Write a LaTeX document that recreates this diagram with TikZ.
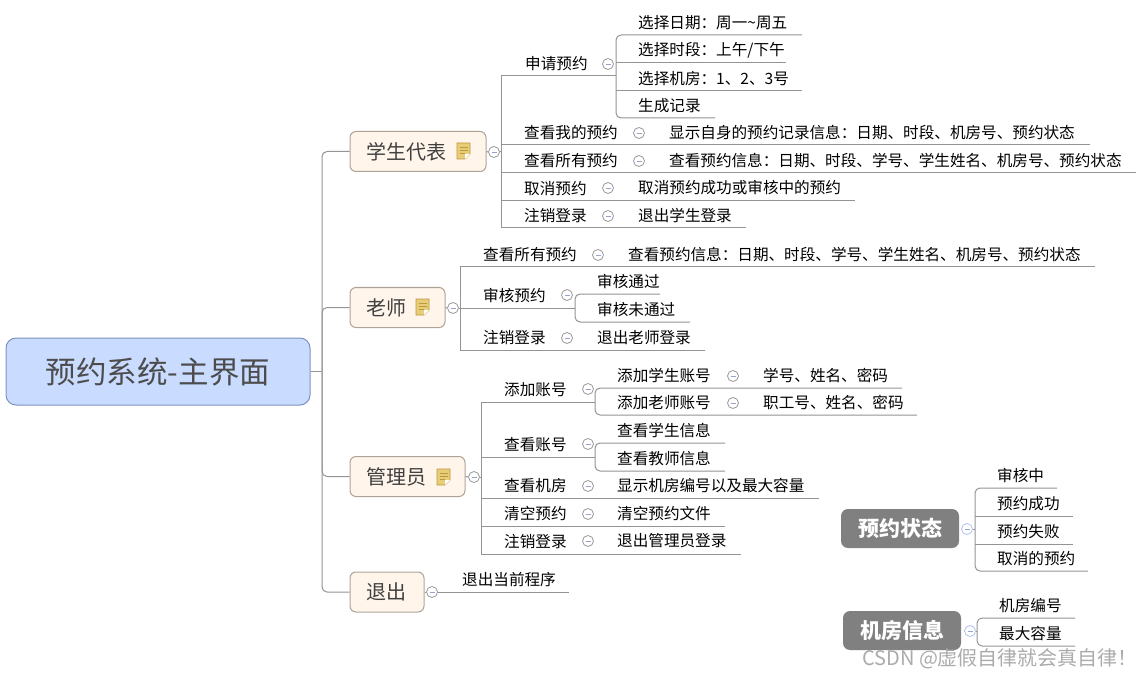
\documentclass[tikz,border=0pt]{standalone}
\usepackage{fontspec}
\setmainfont{Noto Sans CJK SC}
\newcommand{\lfn}[5]{% id, text x, line y, line end x, text
  \node[lbl,anchor=west] (#1) at (#2,#3-13.5) {#5};
  \coordinate (#1-e) at (#4,#3);
}
\newcommand{\hln}[2]{\coordinate (#1-s) at (#2); \draw[con] (#1-s) -- (#1-e);}
\newcommand{\tgl}[3]{\node[tog] (#1) at (#2,#3) {}; \draw[togm] ([xshift=-2.5pt]#1.center) -- ([xshift=2.5pt]#1.center);}
\newcommand{\noteicon}[2]{%
  \fill[notef] (#1,#2) -- ++(13,0) -- ++(0,11) -- ++(-5,5) -- ++(-8,0) -- cycle;
  \draw[noted] (#1,#2) -- ++(13,0) -- ++(0,11) -- ++(-5,5) -- ++(-8,0) -- cycle;
  \fill[white] (#1+13,#2+11) -- ++(-5,0) -- ++(0,5) -- cycle;
  \draw[noted,line width=.8pt] (#1+2.5,#2+4) -- ++(8,0) (#1+2.5,#2+7) -- ++(8,0) (#1+2.5,#2+10) -- ++(5,0);
}
\tikzset{
  x=1pt,y=-1pt,
  lbl/.style={inner sep=0pt,yshift=-.7pt,font=\fontsize{15.6}{18}\selectfont,text=black},
  con/.style={draw=black!42,line width=1pt},
  trunk/.style={draw=black!42,line width=1pt,rounded corners=5pt},
  tog/.style={circle,draw=black!40,fill=white,line width=.8pt,minimum size=11pt,inner sep=0pt},
  togb/.style={circle,draw={rgb,255:red,175;green,195;blue,240},fill=white,line width=.8pt,minimum size=11pt,inner sep=0pt},
  togm/.style={draw={rgb,255:red,150;green,165;blue,205},line width=.9pt},
  topic/.style={draw=brown!40!black!45!white,fill=orange!8!white,rounded corners=6pt,line width=1pt,inner sep=0pt},
  dark/.style={fill=black!50,rounded corners=7pt,inner sep=0pt,text=white,font=\fontsize{21}{24}\selectfont\bfseries},
  notef/.style={fill={rgb,255:red,232;green,205;blue,120}},
  noted/.style={draw={rgb,255:red,190;green,150;blue,60},line width=.9pt},
  ttxt/.style={font=\fontsize{20}{24}\selectfont,text=black!75,inner sep=0pt,anchor=west},
}
\begin{document}
\begin{tikzpicture}
\useasboundingbox (0,0) rectangle (1141,679);
% root
\node[draw={rgb,255:red,125;green,145;blue,190},fill={rgb,255:red,201;green,220;blue,255},rounded corners=10pt,line width=1pt,minimum width=304pt,minimum height=67pt,inner sep=0pt,font=\fontsize{30.5}{34}\selectfont,text=black!70] (root) at (158,371.5) {预约系统-主界面};
% topics
\node[topic,minimum width=136pt,minimum height=40pt] (stu) at (418,151.5) {};
\node[ttxt] (stut) at (366,152) {学生代表};
\noteicon{457}{143}
\node[topic,minimum width=95pt,minimum height=40pt] (tea) at (397.5,307.5) {};
\node[ttxt] (teat) at (366,308) {老师};
\noteicon{416}{299}
\node[topic,minimum width=115pt,minimum height=40pt] (adm) at (407.5,476.5) {};
\node[ttxt] (admt) at (366,477) {管理员};
\noteicon{437}{469}
\node[topic,minimum width=74pt,minimum height=40pt] (ext) at (387,592) {};
\node[ttxt] (extt) at (366,592) {退出};
% root connectors
\coordinate (rt) at (322,371.5);
\draw[con] (root.east) -- (rt);
\draw[trunk] (stu.west) -- (322,151.5) -- (322,592) -- (ext.west);
\draw[trunk] (tea.west) -- (322,307.5) -- (rt);
\draw[trunk] (adm.west) -- (322,476.5) -- (rt);
% student
\tgl{stug}{494}{152}
\draw[con] (stu.east) -- (stug.west);
\lfn{s1}{525}{76}{616}{申请预约}
\lfn{s2}{524}{145}{1090}{查看我的预约}
\lfn{s3}{524}{173}{1136}{查看所有预约}
\lfn{s4}{524}{201}{855}{取消预约}
\lfn{s5}{524}{228}{746}{注销登录}
\coordinate (st) at (501,152);
\draw[con] (stug.east) -- (st);
\draw[con] (s1-e) -- (501,76) -- (501,228) -- (s5-e);
\hln{s2}{501,145} \hln{s3}{501,173} \hln{s4}{501,201}
\tgl{s1g}{608}{64}\tgl{s2g}{639}{133}\tgl{s3g}{639}{161}\tgl{s4g}{608}{188}\tgl{s5g}{608}{216}
\lfn{s11}{638}{35}{802}{选择日期：周一{\char"7E}周五}
\lfn{s12}{638}{63}{786}{选择时段：上午/下午}
\lfn{s13}{638}{91}{802}{选择机房：1、2、3号}
\lfn{s14}{638}{118}{715}{生成记录}
\draw[trunk] (s11-e) -- (616,35) -- (616,118) -- (s14-e);
\hln{s12}{616,63} \hln{s13}{616,91}
\node[lbl,anchor=west] (s2c) at (669,132) {显示自身的预约记录信息：日期、时段、机房号、预约状态};
\node[lbl,anchor=west] (s3c) at (669,160) {查看预约信息：日期、时段、学号、学生姓名、机房号、预约状态};
\node[lbl,anchor=west] (s4c) at (638,187) {取消预约成功或审核中的预约};
\node[lbl,anchor=west] (s5c) at (638,215) {退出学生登录};
% teacher
\tgl{teag}{453}{308}
\draw[con] (tea.east) -- (teag.west);
\lfn{t1}{483}{267}{1095}{查看所有预约}
\lfn{t2}{483}{308}{575}{审核预约}
\lfn{t3}{483}{350}{705}{注销登录}
\draw[con] (teag.east) -- (460,308);
\draw[con] (t1-e) -- (460,267) -- (460,350) -- (t3-e);
\hln{t2}{460,308}
\tgl{t1g}{598}{255}\tgl{t2g}{567}{295}\tgl{t3g}{567}{338}
\node[lbl,anchor=west] (t1c) at (628,254) {查看预约信息：日期、时段、学号、学生姓名、机房号、预约状态};
\node[lbl,anchor=west] (t3c) at (597,337) {退出老师登录};
\lfn{t21}{597}{294}{660}{审核通过}
\lfn{t22}{597}{322}{690}{审核未通过}
\draw[trunk] (t21-e) -- (575,294) -- (575,322) -- (t22-e);
% admin
\tgl{admg}{474}{477}
\draw[con] (adm.east) -- (admg.west);
\lfn{a1}{504}{402}{595}{添加账号}
\lfn{a2}{504}{457}{595}{查看账号}
\lfn{a3}{504}{498}{819}{查看机房}
\lfn{a4}{504}{526}{725}{清空预约}
\lfn{a5}{504}{554}{741}{注销登录}
\draw[con] (admg.east) -- (481,477);
\draw[con] (a1-e) -- (481,402) -- (481,554) -- (a5-e);
\hln{a2}{481,457} \hln{a3}{481,498} \hln{a4}{481,526}
\tgl{a1g}{588}{389}\tgl{a2g}{588}{444}\tgl{a3g}{588}{486}\tgl{a4g}{588}{514}\tgl{a5g}{588}{541}
\lfn{a11}{617}{388}{902}{添加学生账号}
\lfn{a12}{617}{415}{917}{添加老师账号}
\draw[trunk] (a11-e) -- (595,388) -- (595,415) -- (a12-e);
\tgl{a11g}{733}{376}\tgl{a12g}{733}{403}
\node[lbl,anchor=west] (a11c) at (763,375) {学号、姓名、密码};
\node[lbl,anchor=west] (a12c) at (763,402) {职工号、姓名、密码};
\lfn{a21}{617}{443}{725}{查看学生信息}
\lfn{a22}{617}{471}{725}{查看教师信息}
\draw[trunk] (a21-e) -- (595,443) -- (595,471) -- (a22-e);
\node[lbl,anchor=west] (a3c) at (617,485) {显示机房编号以及最大容量};
\node[lbl,anchor=west] (a4c) at (617,513) {清空预约文件};
\node[lbl,anchor=west] (a5c) at (617,540) {退出管理员登录};
% exit
\tgl{extg}{432}{592}
\draw[con] (ext.east) -- (extg.west);
\lfn{e1}{462}{592}{569}{退出当前程序}
\draw[con] (extg.east) -- (e1-e);
% status
\node[dark,minimum width=118pt,minimum height=39pt] (st1) at (900,528.5) {预约状态};
\node[togb] (st1g) at (967,529) {};
\draw[togm] ([xshift=-2.5pt]st1g.center) -- ([xshift=2.5pt]st1g.center);
\lfn{p1}{997}{488}{1057}{审核中}
\lfn{p2}{997}{516}{1073}{预约成功}
\lfn{p3}{997}{544}{1073}{预约失败}
\lfn{p4}{997}{571}{1088}{取消的预约}
\draw[con] (st1g.east) -- (975,529);
\draw[trunk] (p1-e) -- (975,488) -- (975,571) -- (p4-e);
\hln{p2}{975,516} \hln{p3}{975,544}
% room
\node[dark,minimum width=118pt,minimum height=39pt] (rm1) at (902,630.5) {机房信息};
\node[togb] (rm1g) at (970,631) {};
\draw[togm] ([xshift=-2.5pt]rm1g.center) -- ([xshift=2.5pt]rm1g.center);
\lfn{q1}{999}{618}{1075}{机房编号}
\lfn{q2}{999}{646}{1075}{最大容量}
\draw[con] (rm1g.east) -- (977,631);
\draw[trunk] (q1-e) -- (977,618) -- (977,646) -- (q2-e);
% watermark
\node[anchor=west,inner sep=0pt,text=black!33,font=\fontsize{20}{22}\selectfont] (wm) at (862,659) {CSDN @虚假自律就会真自律！};
\end{tikzpicture}
\end{document}
